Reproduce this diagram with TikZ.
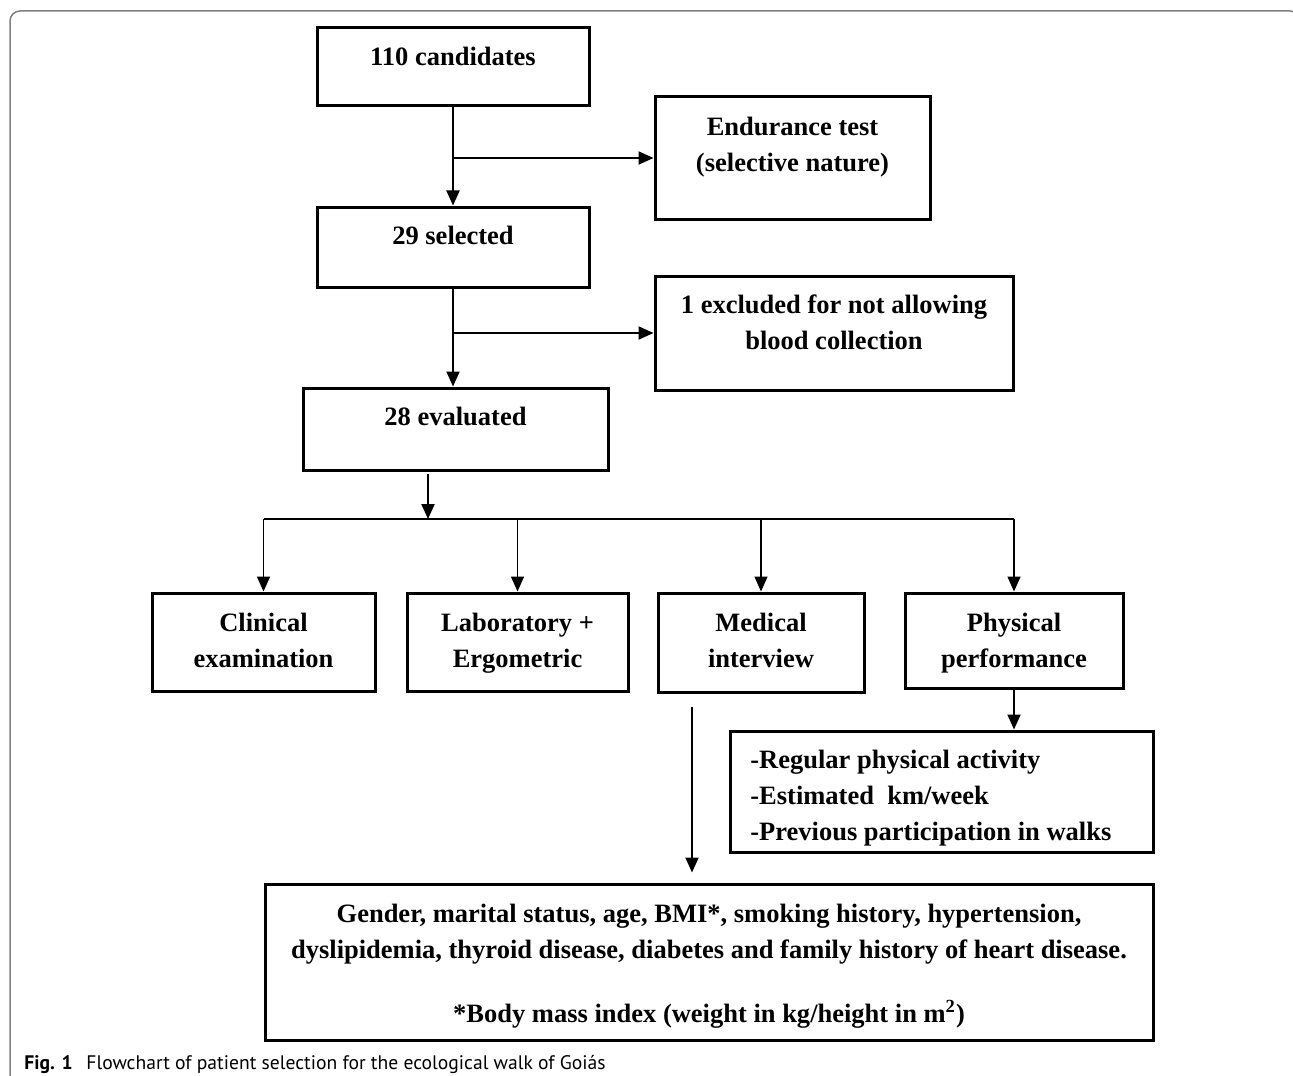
\documentclass[tikz,border=0pt]{standalone}
\usepackage{fontspec}
\setmainfont{Liberation Serif}
\newfontfamily\capfont{PT Sans}
\usetikzlibrary{arrows.meta}
\begin{document}
\begin{tikzpicture}[x=0.5pt,y=-0.5pt,
  box/.style={draw, line width=1.5pt, inner sep=0pt},
  txt/.style={inner sep=0pt, anchor=north, align=center, font=\fontsize{13.25pt}{18pt}\selectfont\bfseries},
  ltxt/.style={inner sep=0pt, anchor=north west, align=left, font=\fontsize{13.25pt}{18pt}\selectfont\bfseries},
  arr/.style={line width=1pt, -{Triangle[length=7.5pt,width=6.5pt]}},
  thinline/.style={line width=0.7pt},
  thinarr/.style={line width=0.7pt, -{Triangle[length=7.5pt,width=6.5pt]}}
]
\useasboundingbox (0,0) rectangle (1293,1075);
\fill[white] (0,0) rectangle (1293,1075);
\begin{scope}
  \clip (0,0) rectangle (1293,1075);
  \draw[gray, line width=0.75pt, rounded corners=5pt] (10,1100) -- (10,11) -- (1300,11) -- (1300,1100);
\end{scope}

% boxes
\node[box, minimum width=136pt,   minimum height=39pt]   (cand)  at (453,67)    {};
\node[box, minimum width=137.5pt, minimum height=61pt]   (endur) at (792.5,158) {};
\node[box, minimum width=136pt,   minimum height=40pt]   (sel)   at (453,247)   {};
\node[box, minimum width=179pt,   minimum height=57pt]   (excl)  at (834,333)   {};
\node[box, minimum width=152.5pt, minimum height=41pt]   (eval)  at (455.5,429) {};
\node[box, minimum width=111.5pt, minimum height=49pt]   (clin)  at (263.5,642) {};
\node[box, minimum width=110.5pt, minimum height=49pt]   (lab)   at (517.5,642) {};
\node[box, minimum width=103pt,   minimum height=49.5pt] (med)   at (761,642.5) {};
\node[box, minimum width=109pt,   minimum height=47.5pt] (phys)  at (1014,640.5) {};
\node[box, minimum width=211.5pt, minimum height=60.5pt] (act)   at (941.5,791.5) {};
\node[box, minimum width=444pt,   minimum height=78pt]   (bot)   at (709,962)   {};

% texts
\node[txt] (candt)  at (453,46.7)   {110 candidates};
\node[txt] (endurt) at (792.5,116.7) {Endurance test\\(selective nature)};
\node[txt] (selt)   at (453,225.7)  {29 selected};
\node[txt] (exclt)  at (834,294.7)  {1 excluded for not allowing\\blood collection};
\node[txt] (evalt)  at (455.5,406.7) {28 evaluated};
\node[txt] (clint)  at (263.5,612.7) {Clinical\\examination};
\node[txt] (labt)   at (517.5,612.7) {Laboratory +\\Ergometric};
\node[txt] (medt)   at (761,612.7)  {Medical\\interview};
\node[txt] (physt)  at (1014,612.7) {Physical\\performance};
\node[ltxt] (actt)  at (750,749.7)  {-Regular physical activity\\-Estimated\ \ km/week\\-Previous participation in walks};
\node[txt] (bott)   at (709,903.7)  {Gender, marital status, age, BMI*, smoking history, hypertension,\\dyslipidemia, thyroid disease, diabetes and family history of heart disease.\\[14pt]*Body mass index (weight in kg/height in m\textsuperscript{2})};

% connectors
\draw[arr] (cand.south) -- (sel.north);
\coordinate (b1) at (cand.south |- endur.west);
\draw[arr] (b1) -- (endur.west);
\draw[arr] (sel.south) -- (sel.south |- eval.north);
\coordinate (b2) at (sel.south |- excl.west);
\draw[arr] (b2) -- (excl.west);

\coordinate (e0) at (428,474);
\coordinate (hub) at (428,519);
\draw[arr] (e0) -- (hub);
\draw[thinline] (clin.north |- hub) -- (phys.north |- hub);
\draw[thinarr] (clin.north |- hub) -- (clin.north);
\draw[thinarr] (lab.north |- hub) -- (lab.north);
\draw[thinarr] (med.north |- hub) -- (med.north);
\draw[thinarr] (phys.north |- hub) -- (phys.north);

\draw[arr] (phys.south) -- (phys.south |- act.north);
\coordinate (m0) at (692,707);
\draw[arr, shorten >=5pt] (m0) -- (m0 |- bot.north);

% caption
\node[anchor=base west, inner sep=0pt, font=\capfont\fontsize{9.8pt}{12pt}\selectfont] (cap) at (24,1069)
  {\textbf{Fig. 1}\hspace{0.7em}Flowchart of patient selection for the ecological walk of Goiás};
\end{tikzpicture}
\end{document}
